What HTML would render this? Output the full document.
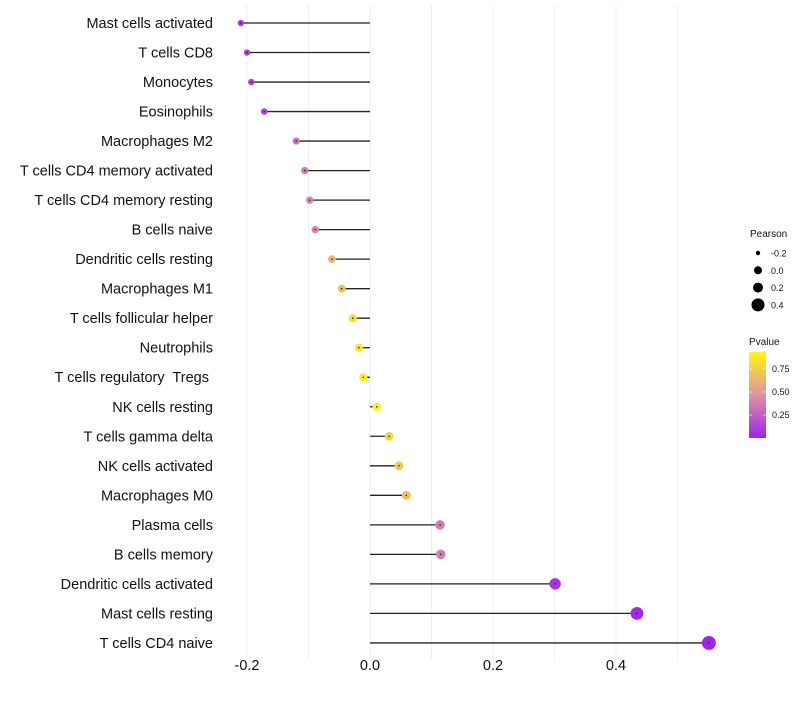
<!DOCTYPE html>
<html><head><meta charset="utf-8"><style>
body{margin:0;background:#fff;font-family:"Liberation Sans",sans-serif}
text{white-space:pre}
</style></head><body>
<svg id="c" width="800" height="700" xmlns="http://www.w3.org/2000/svg"></svg>
<script>
const categories=["Mast cells activated","T cells CD8","Monocytes","Eosinophils","Macrophages M2","T cells CD4 memory activated","T cells CD4 memory resting","B cells naive","Dendritic cells resting","Macrophages M1","T cells follicular helper","Neutrophils","T cells regulatory  Tregs ","NK cells resting","T cells gamma delta","NK cells activated","Macrophages M0","Plasma cells","B cells memory","Dendritic cells activated","Mast cells resting","T cells CD4 naive"];
const pearson=[-0.21,-0.20,-0.193,-0.172,-0.12,-0.106,-0.098,-0.089,-0.062,-0.046,-0.028,-0.018,-0.011,0.011,0.031,0.047,0.059,0.114,0.115,0.301,0.434,0.551];
const pvalue=[0.1,0.12,0.14,0.15,0.35,0.4,0.42,0.45,0.65,0.7,0.85,0.88,0.93,0.95,0.82,0.75,0.7,0.4,0.4,0.08,0.03,0.01];
const xTicks=[-0.2,0,0.2,0.4];
const xGrid=[-0.2,-0.1,0,0.1,0.2,0.3,0.4,0.5];
const sizeLegend=[-0.2,0,0.2,0.4];
const pTicks=[0.25,0.5,0.75];
const svg=document.getElementById('c');const NS='http://www.w3.org/2000/svg';
function mk(t,a,p){const e=document.createElementNS(NS,t);for(const k in a)e.setAttribute(k,a[k]);(p||svg).appendChild(e);return e;}
const x=v=>370+v*615;
const y=i=>23+i*29.52;
const r=v=>3.2+(v+0.2)*5;
function lerp(a,b,t){return a.map((c,i)=>Math.round(c+(b[i]-c)*t));}
function col(p){const s=[[0,[160,32,240]],[0.5,[224,150,160]],[1,[255,255,0]]];
 const t=Math.max(0,Math.min(1,p));const k=t<0.5?0:1;const c=lerp(s[k][1],s[k+1][1],(t-s[k][0])/0.5);return `rgb(${c})`;}
xGrid.forEach(v=>{const l=mk('line',{x1:x(v),x2:x(v),y1:5,y2:660,stroke:'#f0f0f0','stroke-width':1});

});
xTicks.forEach(v=>{const t=mk('text',{x:x(v),y:670,'text-anchor':'middle','font-size':14.5,fill:'#111'});t.textContent=v===0?'0.0':v.toFixed(1);

});
categories.forEach((c,i)=>{
 const t=mk('text',{x:213,y:y(i)+5,'text-anchor':'end','font-size':14.5,fill:'#111'});t.textContent=c;
 
 
 const l=mk('line',{x1:x(0),x2:x(pearson[i]),y1:y(i),y2:y(i),stroke:'#222','stroke-width':1.3});
 
 
 const d=mk('circle',{cx:x(pearson[i]),cy:y(i),r:r(pearson[i]),fill:col(pvalue[i])});
 
 
 const m=mk('circle',{cx:x(pearson[i]),cy:y(i),r:0.8,fill:'#222'});
 
 
});
const g=mk('g',{});
let t=mk('text',{x:750,y:237,'font-size':10,fill:'#111'},g);t.textContent='Pearson';
const lr=[2.2,4,5,6.5];
sizeLegend.forEach((v,i)=>{const cy=253+i*17.3;const c=mk('circle',{cx:758,cy:cy,r:lr[i],fill:'#000'},g);

const tt=mk('text',{x:771,y:cy+3.5,'font-size':9,fill:'#111'},g);tt.textContent=v===0?'0.0':v.toFixed(1);});
t=mk('text',{x:749,y:345,'font-size':10,fill:'#111'},g);t.textContent='Pvalue';
const defs=mk('defs',{});const lg=mk('linearGradient',{id:'pg',x1:0,y1:1,x2:0,y2:0},defs);
[0,0.25,0.5,0.75,1].forEach(s=>mk('stop',{offset:s,'stop-color':col(0.01+s*0.95)},lg));
const bar=mk('rect',{x:749,y:352,width:17,height:86,fill:'url(#pg)'},g);

pTicks.forEach(p=>{const yy=438-p*92;mk('line',{x1:749,x2:752,y1:yy,y2:yy,stroke:'#fff','stroke-width':0.6},g);mk('line',{x1:763,x2:766,y1:yy,y2:yy,stroke:'#fff','stroke-width':0.6},g);
const tt=mk('text',{x:772,y:yy+3,'font-size':9,fill:'#111'},g);tt.textContent=p.toFixed(2);});
</script>
</body></html>
